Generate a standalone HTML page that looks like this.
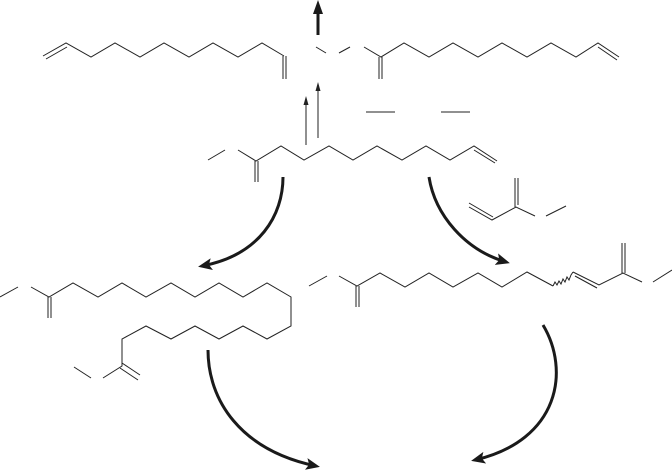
<!DOCTYPE html>
<html><head><meta charset="utf-8"><style>html,body{margin:0;padding:0;background:#fff}svg{display:block}</style></head>
<body>
<svg width="672" height="471" viewBox="0 0 672 471" xmlns="http://www.w3.org/2000/svg">
<defs>
<marker id="ah" markerWidth="14" markerHeight="12" refX="10" refY="6" orient="auto" markerUnits="userSpaceOnUse"><path d="M0,0 L14,6 L0,12 L3,6 Z" fill="#1a1a1a"/></marker>
</defs>
<g stroke="#222" stroke-width="1" fill="none">
<polyline points="43,56 66,43 91,57 115,43 140,57 164,43 189,57 213,43 238,57 262,43 284,56"/>
<line x1="46" y1="59" x2="67" y2="47"/>
<line x1="283" y1="56" x2="283" y2="79"/><line x1="286" y1="56" x2="286" y2="79"/>
<line x1="316" y1="47" x2="326" y2="53"/>
<line x1="339" y1="53" x2="350" y2="47"/>
<polyline points="364,47 381,57 404,43 429,57 453,43 478,57 502,43 527,57 551,43 576,57 598,43 619,57"/>
<line x1="598" y1="47" x2="617" y2="60"/>
<line x1="379" y1="57" x2="379" y2="79"/><line x1="382" y1="57" x2="382" y2="79"/>
<line x1="366" y1="112" x2="395" y2="112"/>
<line x1="441" y1="112" x2="470" y2="112"/>
<line x1="208" y1="160" x2="225" y2="150"/>
<polyline points="238,150 256,161 281,146 304,160 329,146 353,160 377,146 402,160 426,146 450,160 474,146 497,161"/>
<line x1="474" y1="150" x2="495" y2="163"/>
<line x1="255" y1="161" x2="255" y2="182"/><line x1="258" y1="161" x2="258" y2="182"/>
<polyline points="469,207 492,220 516,207 535,216"/>
<line x1="469" y1="203" x2="493" y2="217"/>
<line x1="515" y1="178" x2="515" y2="207"/><line x1="518" y1="178" x2="518" y2="205"/>
<line x1="546" y1="216" x2="566" y2="206"/>
<line x1="0" y1="297" x2="18" y2="287"/>
<polyline points="31,287 49,297 73,283 98,297 122,283 146,297 171,283 195,297 219,283 243,297 267,283 291,297 291,326 267,339 243,326 219,339 195,326 171,339 146,326 122,339 122,366 103,378"/>
<line x1="122" y1="363" x2="140" y2="375"/>
<line x1="120" y1="368" x2="138" y2="380"/>
<line x1="74" y1="367" x2="91" y2="378"/>
<line x1="48" y1="297" x2="48" y2="318"/><line x1="51" y1="297" x2="51" y2="318"/>
<line x1="309" y1="286" x2="327" y2="276"/>
<polyline points="339,276 357,286 380,273 405,287 429,273 453,287 478,273 502,287 527,272 553,286"/>
<polyline points="553,286 555,282 557,285 559,281 561,284 563,279 565,282 567,277 569,280 571,275 573,272"/>
<polyline points="573,272 599,285 623,273 642,282"/>
<line x1="575" y1="276" x2="597" y2="288"/>
<line x1="622" y1="273" x2="622" y2="243"/><line x1="625" y1="273" x2="625" y2="243"/>
<line x1="653" y1="282" x2="672" y2="270"/>
<line x1="356" y1="286" x2="356" y2="307"/><line x1="359" y1="286" x2="359" y2="307"/>
</g>
<line x1="318" y1="35" x2="318" y2="8" stroke="#1a1a1a" stroke-width="3"/>
<path d="M318,0 L323,14 L313,14 Z" fill="#1a1a1a"/>
<line x1="306" y1="145" x2="306" y2="100" stroke="#222" stroke-width="1"/>
<path d="M306,96 L308.5,105 L303.5,105 Z" fill="#222"/>
<line x1="318" y1="138" x2="318" y2="86" stroke="#222" stroke-width="1"/>
<path d="M318,82 L320.5,91 L315.5,91 Z" fill="#222"/>
<g stroke="#1a1a1a" stroke-width="3" fill="none">
<path d="M283,177 C283,215 260,255 202,266" marker-end="url(#ah)"/>
<path d="M429,177 C435,215 465,250 506,262" marker-end="url(#ah)"/>
<path d="M208,350 C208,400 240,450 316,466" marker-end="url(#ah)"/>
<path d="M543,325 C570,370 560,440 475,460" marker-end="url(#ah)"/>
</g>
</svg>
</body></html>
